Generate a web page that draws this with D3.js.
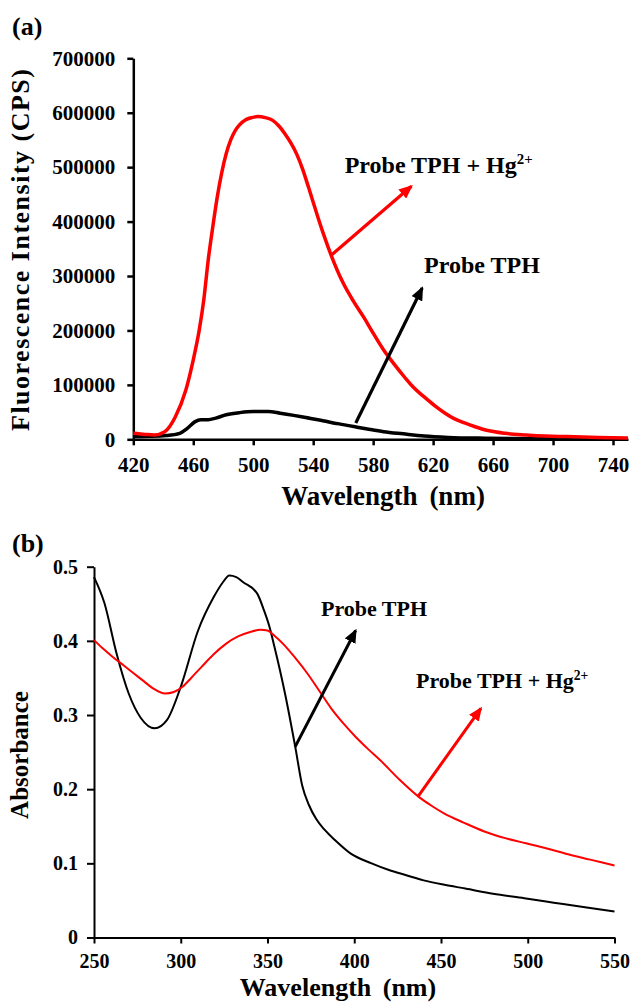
<!DOCTYPE html>
<html>
<head>
<meta charset="utf-8">
<script src="https://cdn.jsdelivr.net/npm/d3@7"></script>
<style>
  body { margin: 0; background: #fff; }
  svg text { font-family: "Times New Roman", "Liberation Serif", serif; font-weight: bold; fill: #000; }
</style>
</head>
<body>
<svg id="chart"></svg>
<script>
// canvas
var w = 633;
var h = 1004;

var svg = d3.select("#chart")
  .attr("width", w)
  .attr("height", h)
  .style("background-color", "white");

// ---- DATA (a) fluorescence, [wavelength nm, CPS]
var fluorHg = [[420,11000],[428,9000],[434,8000],[441,14000],[448,41000],[455,90000],[460,146000],
  [464,201000],[467,256000],[470,330000],[473,390000],[476,445000],[479,490000],[482,525000],
  [485,550000],[488,567000],[491,578000],[495,587000],[499,591000],[503,593000],[508,591000],
  [513,586000],[517,576000],[521,562000],[525,545000],[529,524000],[533,496000],[537,462000],
  [542,418000],[547,376000],[552,338000],[560,287000],[567,253000],[574,223000],[580,195000],
  [587,164000],[594,138000],[601,114000],[607,95000],[614,78000],[621,62000],[628,48000],
  [634,38000],[641,30000],[648,23000],[655,17000],[668,11000],[682,8000],[695,6000],[709,5000],
  [730,3500],[750,2500]];
var fluorProbe = [[420,5000],[430,5500],[442,7000],[451,11000],[456,20000],[461,32000],[465,36000],
  [470,36000],[475,39000],[482,45000],[491,49000],[500,51000],[510,51000],[518,48000],[527,44000],
  [535,40000],[545,35000],[552,31000],[560,27000],[568,23000],[578,18000],[587,14000],[600,10000],
  [614,6000],[630,3500],[655,2000],[700,1000],[750,500]];

// ---- DATA (b) absorbance, [wavelength nm, A]
var absProbe = [[250,0.486],[256,0.451],[263,0.383],[270,0.329],[277,0.296],[285,0.282],[292,0.293],
  [300,0.338],[310,0.414],[319,0.459],[324,0.478],[328,0.488],[332,0.486],[336,0.479],[344,0.464],
  [348,0.441],[351,0.42],[354,0.392],[360,0.330],[366,0.257],[370,0.205],[374,0.178],[378,0.160],
  [383,0.145],[389,0.131],[398,0.113],[410,0.100],[420,0.091],[430,0.084],[440,0.077],[452,0.071],
  [464,0.066],[480,0.059],[498,0.053],[515,0.047],[532,0.041],[550,0.035]];
var absHg = [[250,0.401],[255,0.39],[261,0.378],[267,0.367],[273,0.356],[279,0.345],[284,0.336],
  [291,0.329],[296,0.331],[301,0.338],[306,0.35],[312,0.365],[319,0.382],[326,0.396],[333,0.406],
  [340,0.412],[346,0.415],[350,0.414],[354,0.407],[359,0.396],[366,0.377],[373,0.356],[380,0.332],
  [387,0.308],[394,0.288],[401,0.270],[408,0.254],[415,0.239],[426,0.213],[437,0.190],[445,0.177],
  [452,0.167],[463,0.155],[475,0.143],[487,0.134],[499,0.127],[511,0.120],[522,0.113],[536,0.105],
  [550,0.097]];

// tick labels
var ticksA_x = [420,460,500,540,580,620,660,700,740];
var ticksA_y = [0,100000,200000,300000,400000,500000,600000,700000];
var ticksB_x = [250,300,350,400,450,500,550];
var ticksB_y = [0,0.1,0.2,0.3,0.4,0.5];

// annotations: arrow start, arrow tip, label anchor (data units)
var annoA = [
  {text: "Probe TPH + Hg", sup: "2+", color: "#ff0000", from: [552,338000], to: [605.5,465000], at: [561,489000]},
  {text: "Probe TPH", sup: "", color: "#000", from: [568.4,30000], to: [612.7,278000], at: [614,305000]}
];
var annoB = [
  {text: "Probe TPH", sup: "", color: "#000", from: [365.9,0.257], to: [400.8,0.414], at: [380.8,0.433]},
  {text: "Probe TPH + Hg", sup: "2+", color: "#ff0000", from: [436.7,0.19], to: [473,0.309], at: [435.6,0.336]}
];

// arrow heads
var defs = svg.append("defs");
["#ff0000", "#000"].forEach(function (c, i) {
  defs.append("marker")
    .attr("id", "head" + i)
    .attr("viewBox", "0 0 14 12")
    .attr("refX", 12).attr("refY", 6)
    .attr("markerWidth", 14).attr("markerHeight", 12)
    .attr("markerUnits", "userSpaceOnUse")
    .attr("orient", "auto")
    .append("path")
    .attr("d", "M0,0 L14,6 L0,12 Z")
    .attr("fill", c);
});

////PANEL A
var xA = d3.scaleLinear().domain([420, 750]).range([133.3, 628]);
var yA = d3.scaleLinear().domain([0, 700000]).range([439.3, 58.3]);

var gA = svg.append("g");

gA.append("g")
  .attr("transform", "translate(0," + yA(0) + ")")
  .call(d3.axisBottom(xA).tickValues(ticksA_x).tickSize(6).tickSizeOuter(0).tickPadding(12).tickFormat(d3.format("d")))
  .call(styleAxis, 21, 2.5);
gA.append("g")
  .attr("transform", "translate(" + xA(420) + ",0)")
  .call(d3.axisLeft(yA).tickValues(ticksA_y).tickSize(6).tickSizeOuter(0).tickPadding(12).tickFormat(d3.format("d")))
  .call(styleAxis, 21, 2.5);

var lineA = d3.line()
  .curve(d3.curveMonotoneX)
  .x(function (d) { return xA(d[0]); })
  .y(function (d) { return yA(d[1]); });

gA.append("path").attr("d", lineA(fluorProbe))
  .attr("fill", "none").attr("stroke", "#000").attr("stroke-width", 3.5);
gA.append("path").attr("d", lineA(fluorHg))
  .attr("fill", "none").attr("stroke", "#ff0000").attr("stroke-width", 3.5);

drawAnno(gA, annoA, xA, yA, 24, 3.2);

svg.append("text").attr("x", 12).attr("y", 35).attr("font-size", 26).text("(a)");
svg.append("text")
  .attr("transform", "translate(29,250) rotate(-90)")
  .attr("text-anchor", "middle")
  .attr("font-size", 26)
  .attr("textLength", 362)
  .attr("lengthAdjust", "spacing")
  .text("Fluorescence Intensity (CPS)");
svg.append("text")
  .attr("x", 383).attr("y", 505)
  .attr("text-anchor", "middle")
  .attr("font-size", 27)
  .attr("word-spacing", 5)
  .text("Wavelength (nm)");

////PANEL B
var xB = d3.scaleLinear().domain([250, 550]).range([94, 614.5]);
var yB = d3.scaleLinear().domain([0, 0.5]).range([937.5, 566.7]);

var gB = svg.append("g");

gB.append("g")
  .attr("transform", "translate(0," + yB(0) + ")")
  .call(d3.axisBottom(xB).tickValues(ticksB_x).tickSize(6).tickSizeOuter(0).tickPadding(10).tickFormat(d3.format("d")))
  .call(styleAxis, 20, 2);
gB.append("g")
  .attr("transform", "translate(" + xB(250) + ",0)")
  .call(d3.axisLeft(yB).tickValues(ticksB_y).tickSize(7).tickSizeOuter(0).tickPadding(9).tickFormat(d3.format(".1~f")))
  .call(styleAxis, 20, 2);

var lineB = d3.line()
  .curve(d3.curveMonotoneX)
  .x(function (d) { return xB(d[0]); })
  .y(function (d) { return yB(d[1]); });

gB.append("path").attr("d", lineB(absProbe))
  .attr("fill", "none").attr("stroke", "#000").attr("stroke-width", 2);
gB.append("path").attr("d", lineB(absHg))
  .attr("fill", "none").attr("stroke", "#ff0000").attr("stroke-width", 2);

drawAnno(gB, annoB, xB, yB, 22, 3);

svg.append("text").attr("x", 12).attr("y", 552).attr("font-size", 26).text("(b)");
svg.append("text")
  .attr("transform", "translate(28,755) rotate(-90)")
  .attr("text-anchor", "middle")
  .attr("font-size", 25)
  .text("Absorbance");
svg.append("text")
  .attr("x", 338).attr("y", 996)
  .attr("text-anchor", "middle")
  .attr("font-size", 26)
  .attr("word-spacing", 5)
  .text("Wavelength (nm)");

// helpers
function styleAxis(g, fs, sw) {
  g.selectAll("path.domain").attr("stroke", "#000").attr("stroke-width", sw);
  g.selectAll(".tick line").attr("stroke", "#000").attr("stroke-width", sw);
  g.selectAll(".tick text")
    .attr("font-size", fs)
    .style("font-family", '"Times New Roman", "Liberation Serif", serif')
    .style("font-weight", "bold")
    .attr("fill", "#000");
}

function drawAnno(g, list, xs, ys, fs, sw) {
  list.forEach(function (a) {
    g.append("line")
      .attr("x1", xs(a.from[0])).attr("y1", ys(a.from[1]))
      .attr("x2", xs(a.to[0])).attr("y2", ys(a.to[1]))
      .attr("stroke", a.color)
      .attr("stroke-width", sw)
      .attr("marker-end", a.color === "#000" ? "url(#head1)" : "url(#head0)");
    var t = g.append("text")
      .attr("x", xs(a.at[0])).attr("y", ys(a.at[1]))
      .attr("font-size", fs)
      .text(a.text);
    if (a.sup) {
      t.append("tspan")
        .attr("dy", -fs * 0.4)
        .attr("font-size", fs * 0.62)
        .text(a.sup);
    }
  });
}
</script>
</body>
</html>
